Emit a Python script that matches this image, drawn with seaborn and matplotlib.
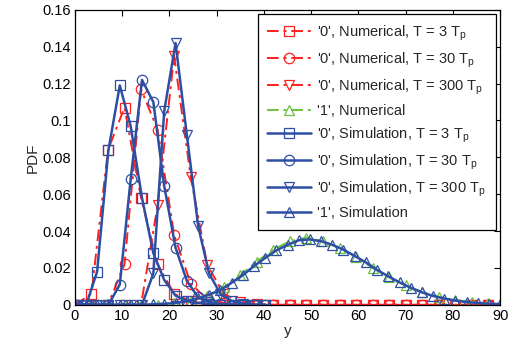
import numpy as np
import pandas as pd
import matplotlib
matplotlib.use('Agg')
import matplotlib.pyplot as plt
import seaborn as sns

# marker positions
x_num = [0, 3.5, 7, 10.5, 14, 17.5, 21, 24.5, 28, 31.5, 35, 38.5, 42,
         45.5, 49, 52.5, 56, 59.5, 63, 66.5, 70, 73.5, 77, 80.5, 84, 87.5]
x_sim = [0, 2.4, 4.7, 7.1, 9.5, 11.8, 14.2, 16.6, 18.9, 21.3, 23.7, 26.1, 28.4,
         30.8, 33.2, 35.5, 37.9, 40.3, 42.6, 45.0, 47.4, 49.7, 52.1, 54.5, 56.8,
         59.2, 61.6, 63.9, 66.3, 68.7, 71.1, 73.4, 75.8, 78.2, 80.5, 82.9, 85.3,
         87.6, 90.0]
x_sim0 = x_sim[:18]

# numerical results
num0_t3 = [0, 0.006, 0.084, 0.107, 0.058, 0.022, 0.006, 0.002, 0.0005, 0, 0, 0, 0,
           0, 0, 0, 0, 0, 0, 0, 0, 0, 0, 0, 0, 0]
num0_t30 = [0, 0, 0, 0.022, 0.117, 0.095, 0.038, 0.0115, 0.003, 0.001, 0, 0, 0,
            0, 0, 0, 0, 0, 0, 0, 0, 0, 0, 0, 0, 0]
num0_t300 = [0, 0, 0, 0, 0, 0.054, 0.135, 0.0696, 0.0217, 0.006, 0.0015, 0.0003, 0,
             0, 0, 0, 0, 0, 0, 0, 0, 0, 0, 0, 0, 0]
num1 = [0, 0, 0, 0, 0, 0, 0.0008, 0.002, 0.005, 0.0095, 0.016, 0.0235, 0.030,
        0.0345, 0.0365, 0.0345, 0.031, 0.026, 0.020, 0.015, 0.0105, 0.007, 0.0043,
        0.0026, 0.0015, 0.0009]

# simulation results
sim0_t3 = [0, 0, 0.018, 0.084, 0.119, 0.097, 0.058, 0.028, 0.0135, 0.005, 0.002,
           0.001, 0.0005, 0, 0, 0, 0, 0]
sim0_t30 = [0, 0, 0, 0, 0.011, 0.068, 0.122, 0.110, 0.0645, 0.031, 0.013, 0.004,
            0.0015, 0.0005, 0, 0, 0, 0]
sim0_t300 = [0, 0, 0, 0, 0, 0, 0, 0.017, 0.105, 0.142, 0.092, 0.0425, 0.017,
             0.006, 0.002, 0.0007, 0, 0]
sim1 = [0, 0, 0, 0, 0, 0, 0, 0.0003, 0.0006, 0.001, 0.002, 0.0035, 0.0055, 0.008,
        0.012, 0.016, 0.021, 0.0255, 0.0295, 0.0325, 0.035, 0.0355, 0.0345, 0.0325,
        0.030, 0.0265, 0.023, 0.019, 0.0155, 0.0122, 0.0092, 0.0068, 0.0048,
        0.0034, 0.0023, 0.0015, 0.001, 0.0006, 0.0004]

x_ticks = [0, 10, 20, 30, 40, 50, 60, 70, 80, 90]
y_ticks = [0, 0.02, 0.04, 0.06, 0.08, 0.1, 0.12, 0.14, 0.16]
y_ticklabels = ['0', '0.02', '0.04', '0.06', '0.08', '0.1', '0.12', '0.14', '0.16']

sns.set_style('white')
plt.rcParams['font.family'] = ['Liberation Sans', 'DejaVu Sans']
plt.rcParams['mathtext.fontset'] = 'custom'
plt.rcParams['mathtext.rm'] = 'Liberation Sans'

red = '#ff1f1f'
green = '#6cc040'
blue = '#2d4fa3'
dashdot = (0, (6, 2.5, 1.5, 2.5))
sub = r'T$_\mathregular{p}$'

fig = plt.figure(figsize=(5.13, 3.52), dpi=100)
ax = fig.add_axes([0.146, 0.134, 0.829, 0.838])

series = [
    (x_num, num0_t3, red, dashdot, 's', 1.4, "'0', Numerical, T = 3 " + sub),
    (x_num, num0_t30, red, dashdot, 'o', 1.4, "'0', Numerical, T = 30 " + sub),
    (x_num, num0_t300, red, dashdot, 'v', 1.4, "'0', Numerical, T = 300 " + sub),
    (x_num, num1, green, dashdot, '^', 1.4, "'1', Numerical"),
    (x_sim0, sim0_t3, blue, '-', 's', 1.8, "'0', Simulation, T = 3 " + sub),
    (x_sim0, sim0_t30, blue, '-', 'o', 1.8, "'0', Simulation, T = 30 " + sub),
    (x_sim0, sim0_t300, blue, '-', 'v', 1.8, "'0', Simulation, T = 300 " + sub),
    (x_sim, sim1, blue, '-', '^', 1.8, "'1', Simulation"),
]

for xs, ys, col, ls, mk, lw, lab in series:
    df = pd.DataFrame({'y': xs, 'pdf': ys})
    sns.lineplot(data=df, x='y', y='pdf', ax=ax, color=col, linestyle=ls,
                 linewidth=lw, marker=mk, markersize=7.5, markerfacecolor='none',
                 markeredgecolor=col, markeredgewidth=0.9, label=lab)

ax.set_xlim(0, 90)
ax.set_ylim(0, 0.16)
ax.set_xticks(x_ticks)
ax.set_yticks(y_ticks)
ax.set_yticklabels(y_ticklabels)
ax.tick_params(direction='in', top=True, right=True, length=4, width=0.8,
               labelsize=10.5, colors='black', pad=3)
for s in ax.spines.values():
    s.set_color('black')
    s.set_linewidth(0.9)
ax.set_xlabel('y', fontsize=11, labelpad=1)
ax.set_ylabel('PDF', fontsize=11, labelpad=2)

leg = ax.legend(loc='upper right', bbox_to_anchor=(0.996, 0.996), fontsize=10.5,
                handlelength=3.0, numpoints=1, labelspacing=0.5,
                handletextpad=0.45, borderpad=0.65, borderaxespad=0.2,
                fancybox=False, framealpha=1, edgecolor='black')
leg.get_frame().set_linewidth(0.9)

fig.savefig('out.png', dpi=100)
